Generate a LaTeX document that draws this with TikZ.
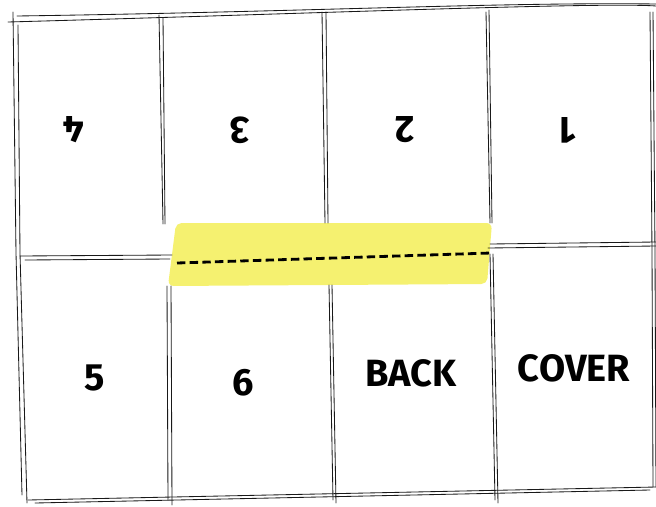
\documentclass[tikz,border=0pt]{standalone}
\usepackage{fontspec}
\setmainfont{Fira Sans}
\definecolor{marker}{HTML}{F5F170}
\begin{document}
\begin{tikzpicture}[x=0.025cm, y=-0.025cm,
    pencil/.style={line width=0.6pt, black!90, line cap=round},
    page/.style={font=\fontsize{27}{30}\selectfont\bfseries, inner sep=0pt},
    upside/.style={page, rotate=180}]
\useasboundingbox (0,0) rectangle (656,506);

% Highlight tape
\fill[marker, rounded corners=4] (176,223) -- (492,223) -- (487,284) -- (168,286) -- cycle;

% Outer border
\draw[pencil] (8,22) .. controls (300,14) and (600,2) .. (656,6);
\draw[pencil] (17,16) .. controls (300,12) and (500,2) .. (656,4);
\draw[pencil] (13,12) -- (16,253) -- (22,495);
\draw[pencil] (18,25) -- (20,253) -- (27,503);
\draw[pencil] (650,12) -- (652,253) -- (653,487);
\draw[pencil] (653,12) -- (655,253) -- (656,487);
\draw[pencil] (28,500) -- (656,487);
\draw[pencil] (35,503) -- (650,490);

% Middle fold
\draw[pencil] (20,256) -- (172,255);
\draw[pencil] (25,260) -- (170,259);
\draw[pencil] (490,244) -- (656,242);
\draw[pencil] (488,248) -- (656,246);

% Columns
\draw[pencil] (159,15) -- (163,224);
\draw[pencil] (163,18) -- (165,224);
\draw[pencil] (167,286) -- (168,500);
\draw[pencil] (171,286) -- (172,505);
\draw[pencil] (322,12) -- (325,223);
\draw[pencil] (326,12) -- (328,223);
\draw[pencil] (329,285) -- (333,500);
\draw[pencil] (332,285) -- (336,503);
\draw[pencil] (486,12) -- (490,223);
\draw[pencil] (489,10) -- (492,223);
\draw[pencil] (490,254) -- (495,500);
\draw[pencil] (493,254) -- (498,503);

% Cut line
\draw[line width=2pt, dash pattern=on 6pt off 3pt] (177,263) -- (491,253);

% Pages
\node[upside] (p4) at (74,130) {4};
\node[upside] (p3) at (240,130) {3};
\node[upside] (p2) at (405,130) {2};
\node[upside] (p1) at (568,130) {1};
\node[page] (p5) at (95,378) {5};
\node[page] (p6) at (243,383) {6};
\node[page] (back) at (411,373) {BACK};
\node[page] (cover) at (574,368) {COVER};
\end{tikzpicture}
\end{document}
